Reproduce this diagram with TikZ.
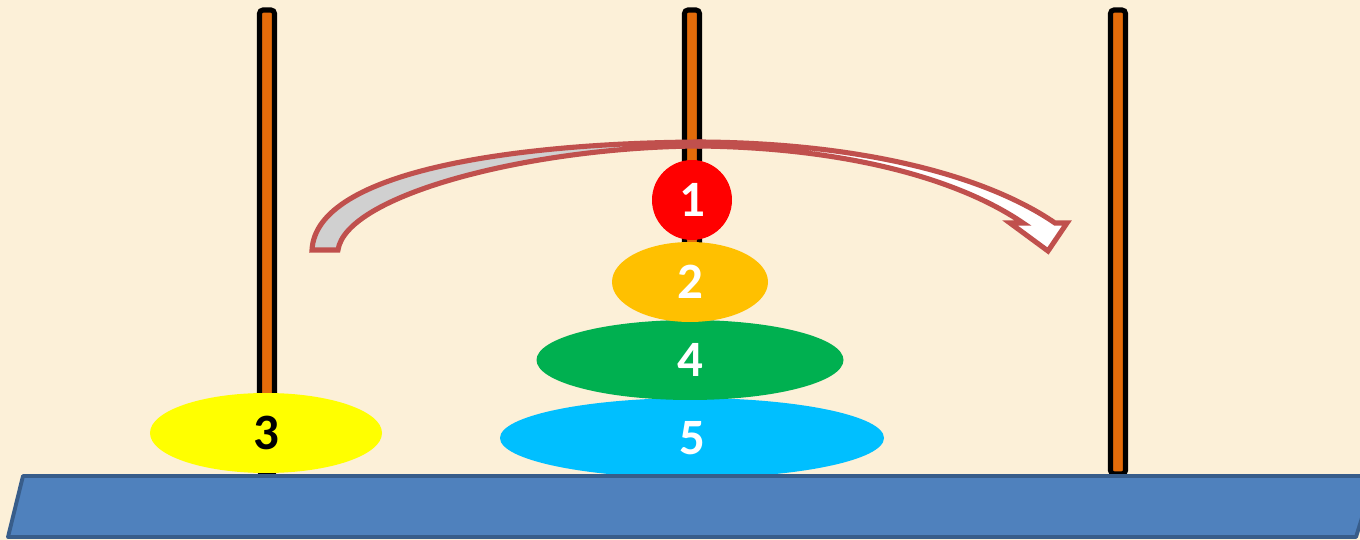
\documentclass[tikz,border=0pt]{standalone}
\usepackage{fontspec}
\setmainfont{Carlito}
\usetikzlibrary{shapes.geometric}
\definecolor{bgcream}{RGB}{252,240,216}
\definecolor{pegorange}{RGB}{228,108,10}
\definecolor{basefill}{RGB}{79,129,189}
\definecolor{baseline}{RGB}{56,93,138}
\definecolor{arrowline}{RGB}{192,80,77}
\definecolor{arrowgray}{RGB}{208,208,208}
\definecolor{diskred}{RGB}{255,0,0}
\definecolor{diskorange}{RGB}{255,192,0}
\definecolor{diskgreen}{RGB}{0,176,80}
\definecolor{diskcyan}{RGB}{0,191,255}
\definecolor{diskyellow}{RGB}{255,255,0}
\tikzset{
  pegbar/.style={draw=black, fill=pegorange, line width=2.9pt, rounded corners=2pt},
  disk/.style={ellipse, inner sep=0pt, minimum height=1.6cm, text=white,
    font=\fontsize{29}{34}\selectfont\bfseries},
  arrowpart/.style={draw=arrowline, line width=2.9pt, line join=miter},
}
\begin{document}
\begin{tikzpicture}[x=0.02cm, y=-0.02cm]
\fill[bgcream] (0,0) rectangle (1360,540);
\useasboundingbox (0,0) rectangle (1360,540);
% pegs
\draw[pegbar] (259.5,10) rectangle (274.5,474);
\draw[pegbar] (684.5,10) rectangle (699.5,474);
\draw[pegbar] (1110.5,10) rectangle (1125.5,474);
% disks
\node[disk, fill=diskyellow, text=black, minimum width=232*0.02cm] (d3) at (266,433) {3};
\node[disk, fill=diskcyan, minimum width=384*0.02cm] (d5) at (692,438) {5};
\node[disk, fill=diskgreen, minimum width=307*0.02cm] (d4) at (690,360) {4};
\node[disk, fill=diskorange, minimum width=156*0.02cm] (d2) at (690,282) {2};
\node[disk, fill=diskred, minimum width=1.6cm] (d1) at (692,200) {1};
% base
\draw[fill=basefill, draw=baseline, line width=2.2pt, line join=round]
  (23,476) -- (1375,476) -- (1356,537) -- (8,537) -- cycle;
% curved arrow
\draw[arrowpart, fill=arrowgray]
  (312,250) .. controls (316,170) and (520,143) .. (700,142)
  -- (700,146) .. controls (530,147) and (346,195) .. (338,250) -- cycle;
\draw[arrowpart, fill=white]
  (700,142) .. controls (860,143) and (985,175) .. (1055,223)
  -- (1067,223) -- (1048,251) -- (1010,223) -- (1023,223)
  .. controls (960,180) and (850,148) .. (700,146) -- cycle;
\end{tikzpicture}
\end{document}
